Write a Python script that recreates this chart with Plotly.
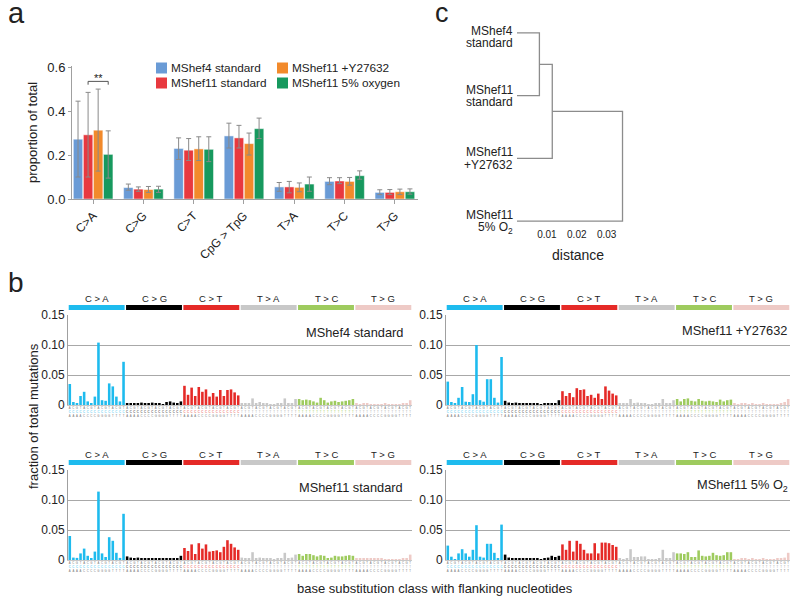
import plotly.graph_objects as go

W, H = 800, 604
def px(x): return x / W
def py(y): return 1 - y / H

FONT = "Liberation Sans, Arial, sans-serif"

# ---------------- panel a data ----------------
cats_a = ["C>A", "C>G", "C>T", "CpG > TpG", "T>A", "T>C", "T>G"]
series_names = ["MShef4 standard", "MShef11 standard", "MShef11 +Y27632", "MShef11 5% oxygen"]
series_colors = ["#6A9BD6", "#E8393F", "#F28A2B", "#17995E"]
mshef4_std = [0.272, 0.052, 0.230, 0.287, 0.055, 0.080, 0.030]
mshef11_std = [0.292, 0.045, 0.222, 0.278, 0.055, 0.082, 0.030]
mshef11_y27 = [0.313, 0.043, 0.228, 0.252, 0.053, 0.080, 0.033]
mshef11_o2 = [0.203, 0.045, 0.226, 0.320, 0.068, 0.106, 0.033]
err_hi = [
    [0.445, 0.068, 0.278, 0.345, 0.075, 0.097, 0.042],
    [0.485, 0.055, 0.275, 0.335, 0.080, 0.097, 0.043],
    [0.500, 0.057, 0.283, 0.300, 0.073, 0.098, 0.045],
    [0.310, 0.058, 0.283, 0.368, 0.100, 0.128, 0.046],
]
err_lo = [
    [0.100, 0.040, 0.180, 0.232, 0.035, 0.065, 0.020],
    [0.100, 0.035, 0.175, 0.232, 0.028, 0.070, 0.020],
    [0.127, 0.030, 0.175, 0.200, 0.033, 0.063, 0.020],
    [0.095, 0.030, 0.170, 0.275, 0.035, 0.090, 0.022],
]
series_vals = [mshef4_std, mshef11_std, mshef11_y27, mshef11_o2]

# ---------------- panel c data ----------------
leaf_labels = [["MShef4", "standard"], ["MShef11", "standard"], ["MShef11", "+Y27632"], ["MShef11", "5% O<sub>2</sub>"]]
leaf_pos = [3, 2, 1, 0]
merge_heights = [0.0075, 0.0118, 0.0353]

# ---------------- panel b data ----------------
subs = ["C > A", "C > G", "C > T", "T > A", "T > C", "T > G"]
sub_colors = ["#1EBBEE", "#000000", "#E52A27", "#C8C8C8", "#9ECB5E", "#EECAC6"]
ref_base = ["C", "C", "C", "T", "T", "T"]
BASES = ["A", "C", "G", "T"]

sig_mshef4 = (
    [0.035, 0.005, 0.002, 0.015, 0.022, 0.006, 0.003, 0.014, 0.104, 0.008, 0.007, 0.036, 0.031, 0.014, 0.006, 0.072]
    + [0.003, 0.002, 0.002, 0.003, 0.004, 0.003, 0.002, 0.004, 0.003, 0.002, 0.001, 0.005, 0.006, 0.004, 0.003, 0.006]
    + [0.032, 0.017, 0.029, 0.015, 0.030, 0.022, 0.026, 0.014, 0.020, 0.014, 0.025, 0.015, 0.025, 0.026, 0.021, 0.016]
    + [0.002, 0.002, 0.002, 0.011, 0.002, 0.005, 0.003, 0.003, 0.001, 0.001, 0.002, 0.002, 0.011, 0.002, 0.003, 0.010]
    + [0.010, 0.008, 0.009, 0.008, 0.006, 0.004, 0.012, 0.008, 0.004, 0.006, 0.007, 0.005, 0.006, 0.007, 0.008, 0.010]
    + [0.002, 0.001, 0.002, 0.002, 0.001, 0.001, 0.001, 0.001, 0.002, 0.001, 0.001, 0.001, 0.001, 0.002, 0.003, 0.008]
)
sig_y27632 = (
    [0.039, 0.005, 0.002, 0.012, 0.030, 0.0055, 0.005, 0.018, 0.100, 0.008, 0.0055, 0.043, 0.043, 0.012, 0.004, 0.080]
    + [0.007, 0.004, 0.003, 0.004, 0.003, 0.002, 0.002, 0.002, 0.002, 0.003, 0.001, 0.002, 0.003, 0.003, 0.003, 0.008]
    + [0.023, 0.015, 0.020, 0.013, 0.028, 0.025, 0.026, 0.015, 0.017, 0.012, 0.019, 0.010, 0.031, 0.024, 0.019, 0.016]
    + [0.002, 0.002, 0.002, 0.010, 0.003, 0.004, 0.003, 0.003, 0.001, 0.001, 0.003, 0.002, 0.010, 0.003, 0.003, 0.008]
    + [0.010, 0.006, 0.010, 0.011, 0.007, 0.006, 0.010, 0.007, 0.006, 0.007, 0.006, 0.005, 0.009, 0.006, 0.008, 0.009]
    + [0.002, 0.001, 0.002, 0.002, 0.001, 0.002, 0.001, 0.001, 0.002, 0.001, 0.001, 0.001, 0.001, 0.002, 0.005, 0.010]
)
sig_mshef11 = (
    [0.040, 0.004, 0.0035, 0.011, 0.019, 0.007, 0.002, 0.014, 0.114, 0.011, 0.005, 0.038, 0.032, 0.012, 0.0035, 0.077]
    + [0.006, 0.004, 0.002, 0.004, 0.003, 0.002, 0.002, 0.003, 0.002, 0.002, 0.002, 0.003, 0.003, 0.003, 0.002, 0.007]
    + [0.020, 0.015, 0.026, 0.010, 0.028, 0.019, 0.026, 0.014, 0.015, 0.016, 0.013, 0.022, 0.033, 0.027, 0.021, 0.017]
    + [0.004, 0.002, 0.002, 0.013, 0.003, 0.004, 0.003, 0.003, 0.002, 0.001, 0.002, 0.002, 0.012, 0.003, 0.004, 0.009]
    + [0.010, 0.007, 0.010, 0.010, 0.008, 0.006, 0.008, 0.007, 0.003, 0.004, 0.007, 0.006, 0.006, 0.007, 0.008, 0.007]
    + [0.002, 0.002, 0.002, 0.003, 0.002, 0.002, 0.003, 0.002, 0.001, 0.001, 0.001, 0.001, 0.001, 0.002, 0.003, 0.009]
)
sig_o2 = (
    [0.024, 0.0055, 0.001, 0.011, 0.018, 0.011, 0.0055, 0.017, 0.058, 0.0055, 0.004, 0.027, 0.027, 0.012, 0.003, 0.059]
    + [0.009, 0.004, 0.003, 0.003, 0.003, 0.003, 0.003, 0.002, 0.003, 0.002, 0.001, 0.003, 0.004, 0.007, 0.005, 0.007]
    + [0.026, 0.017, 0.032, 0.014, 0.032, 0.027, 0.017, 0.011, 0.011, 0.028, 0.011, 0.029, 0.029, 0.028, 0.025, 0.022]
    + [0.002, 0.001, 0.003, 0.018, 0.005, 0.005, 0.006, 0.006, 0.001, 0.001, 0.001, 0.002, 0.017, 0.003, 0.003, 0.013]
    + [0.011, 0.011, 0.010, 0.013, 0.005, 0.005, 0.016, 0.007, 0.006, 0.007, 0.012, 0.008, 0.007, 0.008, 0.013, 0.013]
    + [0.001, 0.001, 0.002, 0.002, 0.001, 0.002, 0.001, 0.001, 0.002, 0.001, 0.001, 0.001, 0.002, 0.002, 0.004, 0.012]
)
panel_b = [
    ("MShef4 standard", sig_mshef4),
    ("MShef11 +Y27632", sig_y27632),
    ("MShef11 standard", sig_mshef11),
    ("MShef11 5% O<sub>2</sub>", sig_o2),
]

fig = go.Figure()

# ---------------- panel a ----------------
xa = list(range(len(cats_a)))
for i, (nm, col, vals) in enumerate(zip(series_names, series_colors, series_vals)):
    fig.add_trace(go.Bar(
        x=xa, y=vals, name=nm, marker=dict(color=col, line=dict(color="white", width=0.5)),
        error_y=dict(type="data", symmetric=False,
                     array=[h - v for h, v in zip(err_hi[i], vals)],
                     arrayminus=[v - l for l, v in zip(err_lo[i], vals)],
                     color="#8a8a8a", thickness=1, width=2.5),
        xaxis="x", yaxis="y", showlegend=False,
    ))

# ---------------- panel c ----------------
h1, h2, h3 = merge_heights
n1 = (leaf_pos[0] + leaf_pos[1]) / 2
n2 = (n1 + leaf_pos[2]) / 2
dx = [0, h1, h1, 0, None, h1, h2, h2, 0, None, h2, h3, h3, 0]
dy = [leaf_pos[0], leaf_pos[0], leaf_pos[1], leaf_pos[1], None, n1, n1, leaf_pos[2], leaf_pos[2], None,
      n2, n2, leaf_pos[3], leaf_pos[3]]
fig.add_trace(go.Scatter(x=dx, y=dy, mode="lines", line=dict(color="#8c8c8c", width=1.3),
                         xaxis="x2", yaxis="y2", showlegend=False, hoverinfo="skip"))

# ---------------- panel b ----------------
ticktext_b = []
for s, c, rb in zip(range(6), sub_colors, ref_base):
    col = c if c not in ("#C8C8C8", "#EECAC6") else "#aaaaaa"
    for b5 in BASES:
        for b3 in BASES:
            ticktext_b.append(f"{b3}<br><span style='color:{col}'>{rb}</span><br>{b5}")
bar_colors = [c for c in sub_colors for _ in range(16)]
xb = list(range(96))

doms_x = [(68, 412), (446, 790), (68, 412), (446, 790)]
doms_y = [(315, 405), (315, 405), (470, 560), (470, 560)]
title_pos = [(405, 332), (789, 330), (405, 487), (790, 485)]
for k, (title, vals) in enumerate(panel_b):
    ax = 3 + k
    fig.add_trace(go.Bar(x=xb, y=vals, marker=dict(color=bar_colors, line=dict(width=0)), width=0.72,
                         xaxis=f"x{ax}", yaxis=f"y{ax}", showlegend=False))

layout = dict(
    width=W, height=H, margin=dict(l=0, r=0, t=0, b=0, pad=0), autosize=False,
    paper_bgcolor="white", plot_bgcolor="white", showlegend=False,
    font=dict(family=FONT, color="#222"),
    barmode="group", bargap=0.2, bargroupgap=0.06,
    xaxis=dict(domain=[px(72), px(418)], range=[-0.42, 6.46], tickvals=xa, ticktext=cats_a,
               tickangle=-45, showline=True, linecolor="#a0a0a0", ticks="outside", ticklen=4,
               tickcolor="#a0a0a0", tickfont=dict(size=12), showgrid=False, zeroline=False, anchor="y",
               automargin=False),
    yaxis=dict(domain=[py(199), py(66)], range=[0, 0.605], tickvals=[0, 0.2, 0.4, 0.6],
               ticktext=["0.0", "0.2", "0.4", "0.6"], showline=True, linecolor="#a0a0a0",
               ticks="outside", ticklen=3, tickcolor="#a0a0a0", tickfont=dict(size=13),
               showgrid=False, zeroline=False, anchor="x", automargin=False,
               title=dict(text="proportion of total", font=dict(size=13), standoff=6)),
    xaxis2=dict(domain=[px(515.5), px(627.6)], range=[-0.0005, 0.037], tickvals=[0.01, 0.02, 0.03],
                ticktext=["0.01", "0.02", "0.03"], showline=False, showgrid=False, zeroline=False,
                ticks="", tickfont=dict(size=10), anchor="y2", automargin=False),
    yaxis2=dict(domain=[py(227.3), py(26.7)], range=[-0.1, 3.1], visible=False, anchor="x2", automargin=False),
)
for k in range(4):
    ax = 3 + k
    x0, x1 = doms_x[k]
    y0, y1 = doms_y[k]
    layout[f"xaxis{ax}"] = dict(domain=[px(x0), px(x1)], range=[-0.5, 95.5], tickvals=xb, ticktext=ticktext_b,
                                tickangle=0, tickfont=dict(size=2.8, color="#777"), ticks="", showline=True,
                                linecolor="#c8c8c8", showgrid=False, zeroline=False, anchor=f"y{ax}",
                                automargin=False)
    layout[f"yaxis{ax}"] = dict(domain=[py(y1), py(y0)], range=[0, 0.15], tickvals=[0, 0.05, 0.10, 0.15],
                                ticktext=["0", "0.05", "0.10", "0.15"], tickfont=dict(size=12),
                                showline=True, linecolor="#a0a0a0", showgrid=True, gridcolor="#a8a8a8",
                                gridwidth=1, zeroline=False, ticks="", anchor=f"x{ax}", automargin=False)
fig.update_layout(**layout)

shapes, annotations = [], []
# legend for panel a (2 x 2 grid)
leg_pos = [(156, 68), (156, 83), (277, 68), (277, 83)]
for (lx, ly), nm, col in zip(leg_pos, series_names, series_colors):
    shapes.append(dict(type="rect", xref="paper", yref="paper", x0=px(lx), x1=px(lx + 11),
                       y0=py(ly + 5.5), y1=py(ly - 5.5), fillcolor=col, line=dict(width=0)))
    annotations.append(dict(x=px(lx + 13), y=py(ly), xref="paper", yref="paper", text=nm, showarrow=False,
                            xanchor="left", yanchor="middle", font=dict(size=11.8)))

# significance bracket (red bar to green bar of C>A)
off_red, off_green = -0.1, 0.3
shapes.append(dict(type="path", xref="x", yref="y",
                   path=f"M {off_red},0.52 L {off_red},0.535 L {off_green},0.535 L {off_green},0.52",
                   line=dict(color="#555", width=1)))
annotations.append(dict(x=(off_red + off_green) / 2, y=0.535, xref="x", yref="y", text="**", showarrow=False,
                        xanchor="center", yanchor="bottom", font=dict(size=11), yshift=-5))

# leaf labels
for lab, pos in zip(leaf_labels, leaf_pos):
    for j, t in enumerate(lab):
        annotations.append(dict(x=px(515), y=pos, xref="paper", yref="y2", text=t, showarrow=False,
                                xanchor="right", yanchor="middle", align="right", font=dict(size=12),
                                yshift=(6 - 12.5 * j) if pos != 3 else (1.5 - 12 * j)))
annotations.append(dict(x=px(578), y=py(255), xref="paper", yref="paper", text="distance", showarrow=False,
                        xanchor="center", yanchor="middle", font=dict(size=14)))

# panel b headers & titles
for k, (title, vals) in enumerate(panel_b):
    ax = 3 + k
    y0, y1 = doms_y[k]
    for s in range(6):
        shapes.append(dict(type="rect", xref=f"x{ax}", yref="paper", x0=s * 16 - 0.5 + 0.2, x1=s * 16 + 15.5 - 0.2,
                           y0=py(y0 - 5), y1=py(y0 - 10), fillcolor=sub_colors[s], line=dict(width=0)))
        annotations.append(dict(x=s * 16 + 7.5, y=py(y0 - 16), xref=f"x{ax}", yref="paper", text=subs[s],
                                showarrow=False, font=dict(size=9.5), xanchor="center", yanchor="middle"))
    tx, ty = title_pos[k]
    annotations.append(dict(x=px(tx), y=py(ty), xref="paper", yref="paper", text=title,
                            showarrow=False, xanchor="right", yanchor="middle", font=dict(size=12.8)))

annotations += [
    dict(x=px(33), y=py(416), xref="paper", yref="paper", text="fraction of total mutations", textangle=-90,
         showarrow=False, xanchor="center", yanchor="middle", font=dict(size=13)),
    dict(x=px(435), y=py(588), xref="paper", yref="paper", text="base substitution class with flanking nucleotides",
         showarrow=False, xanchor="center", yanchor="middle", font=dict(size=13)),
    dict(x=px(6), y=py(13), xref="paper", yref="paper", text="a", showarrow=False, xanchor="left",
         yanchor="middle", font=dict(size=29)),
    dict(x=px(6), y=py(282), xref="paper", yref="paper", text="b", showarrow=False, xanchor="left",
         yanchor="middle", font=dict(size=28)),
    dict(x=px(433), y=py(13), xref="paper", yref="paper", text="c", showarrow=False, xanchor="left",
         yanchor="middle", font=dict(size=27)),
]
fig.update_layout(shapes=shapes, annotations=annotations)
fig.write_html("out.html", config={"displayModeBar": False},
               post_script="document.body.style.margin='0';document.body.style.padding='0';")
